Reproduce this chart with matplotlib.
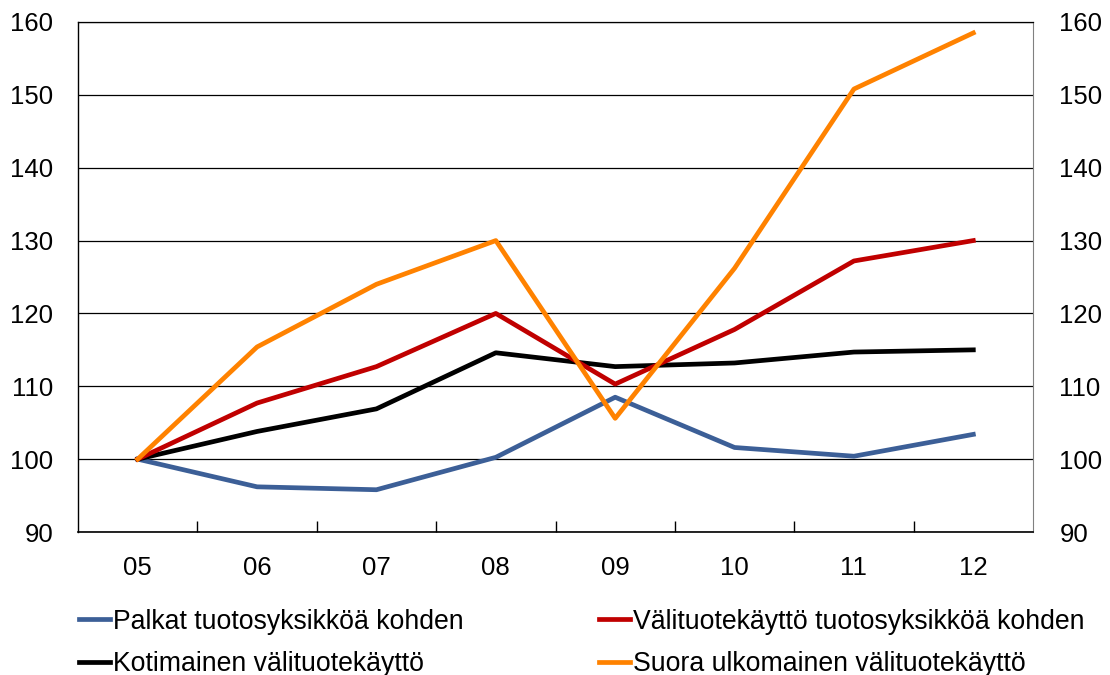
import matplotlib
matplotlib.use('Agg')
import matplotlib.pyplot as plt

plt.rcParams['font.family'] = ['Liberation Sans', 'DejaVu Sans']

vuodet = ['05', '06', '07', '08', '09', '10', '11', '12']

palkat = [100, 96.2, 95.8, 100.25, 108.5, 101.6, 100.4, 103.4]
valituote = [100, 107.7, 112.7, 120.0, 110.3, 117.8, 127.2, 130.0]
kotimainen = [100, 103.8, 106.9, 114.6, 112.7, 113.2, 114.7, 115.0]
suora = [100, 115.4, 124.0, 130.0, 105.6, 126.2, 150.8, 158.5]

y_ticks = [90, 100, 110, 120, 130, 140, 150, 160]

fig = plt.figure(figsize=(11.1, 6.75), dpi=100)
ax = fig.add_axes([78 / 1110, 1 - 532 / 675, (1033 - 78) / 1110, (532 - 22) / 675])

x = list(range(len(vuodet)))
lw = 3.4
l1, = ax.plot(x, palkat, color='#3C5F97', lw=lw, label='Palkat tuotosyksikköä kohden')
l3, = ax.plot(x, kotimainen, color='black', lw=lw, label='Kotimainen välituotekäyttö')
l2, = ax.plot(x, valituote, color='#C00000', lw=lw, label='Välituotekäyttö tuotosyksikköä kohden')
l4, = ax.plot(x, suora, color='#FF8200', lw=lw, label='Suora ulkomainen välituotekäyttö')

ax.set_xlim(-0.5, len(vuodet) - 0.5)
ax.set_ylim(90, 160)
ax.set_yticks(y_ticks)
ax.yaxis.grid(True, color='black', lw=0.9)
ax.set_axisbelow(True)

# vuosien väliset merkit sisäänpäin, nimet keskelle
ax.set_xticks([i + 0.5 for i in range(len(vuodet) - 1)])
ax.set_xticklabels([])
ax.tick_params(axis='x', which='major', direction='in', length=8, width=1, color='black')
ax.set_xticks(x, minor=True)
ax.set_xticklabels(vuodet, minor=True, fontsize=18.5)
ax.tick_params(axis='x', which='minor', length=0, pad=17)
ax.tick_params(axis='y', length=0, labelsize=18.5, pad=18)

ax.spines['right'].set_color('#808080')
ax.spines['top'].set_linewidth(0.9)
ax.spines['left'].set_linewidth(1)
ax.spines['bottom'].set_linewidth(1.2)

ax2 = ax.twinx()
ax2.set_ylim(90, 160)
ax2.set_yticks(y_ticks)
ax2.tick_params(axis='y', length=0, labelsize=18.5, pad=19)
for s in ax2.spines.values():
    s.set_visible(False)

fig.legend(handles=[l1, l3, l2, l4], ncol=2, frameon=False, fontsize=19.2,
           loc='upper left', bbox_to_anchor=(68 / 1110, 1 - 598 / 675),
           handlelength=1.17, handletextpad=0.1, columnspacing=5.1,
           labelspacing=0.62, borderaxespad=0)

fig.savefig('out.png', dpi=100)
